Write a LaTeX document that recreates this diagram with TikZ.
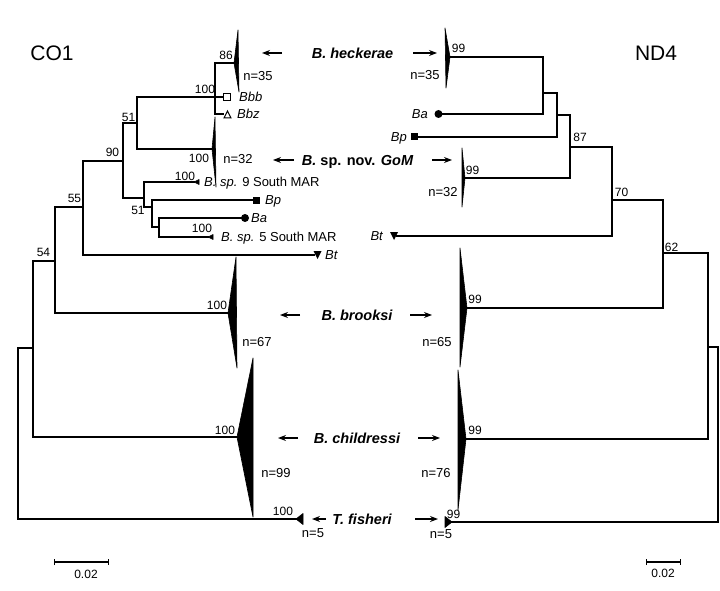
\documentclass[tikz,border=0pt]{standalone}
\usepackage{fontspec}
\setmainfont{Liberation Sans}
\usetikzlibrary{arrows.meta}
\begin{document}
\begin{tikzpicture}[x=1pt,y=-1pt,
  br/.style={line width=1.3pt, line cap=rect},
  clade/.style={fill=black,draw=black,line width=0.6pt,line join=round},
  bs/.style={font=\fontsize{12}{12}\selectfont, inner sep=0pt, text height=8.6pt, text depth=0pt},
  cnt/.style={font=\fontsize{13}{13}\selectfont, inner sep=0pt, text height=9.3pt, text depth=0pt},
  tax/.style={font=\fontsize{13}{13}\selectfont\itshape, inner sep=0pt, text height=9.3pt, text depth=0pt},
  grp/.style={font=\fontsize{14.5}{14.5}\selectfont\bfseries\itshape, inner sep=0pt, text height=10.4pt, text depth=0pt},
  ttl/.style={font=\fontsize{21}{21}\selectfont, inner sep=0pt, text height=15pt, text depth=0pt},
  arr/.style={line width=1.2pt,-{Stealth[length=8pt,width=6pt]}},
  sbar/.style={line width=1.1pt,{Bar[width=6pt]}-{Bar[width=6pt]}},
]
\useasboundingbox (0,0) rectangle (720,591);

% ---------------- titles
\node[ttl] (co1) at (52,53) {CO1};
\node[ttl] (nd4) at (656,53) {ND4};

% ---------------- left tree (CO1): internal nodes
\coordinate (Lr) at (18,348);
\coordinate (LA) at (33,348);
\coordinate (LB) at (55,261);
\coordinate (LC) at (83,207);
\coordinate (LD) at (123,161);
\coordinate (LE) at (137,123);
\coordinate (LF) at (144,198);
\coordinate (LG) at (215,97);
\coordinate (LI) at (152,207);
\coordinate (LJ) at (159,227);
% tips
\coordinate (LtHeck) at (234,63);
\coordinate (LtBbb) at (223.5,97);
\coordinate (LtBbz) at (223.5,114);
\coordinate (LtGoM) at (212,149);
\coordinate (LtSp9) at (194,182);
\coordinate (LtBp) at (253,200);
\coordinate (LtBa) at (241,218);
\coordinate (LtSp5) at (208,237);
\coordinate (LtBt) at (314,255);
\coordinate (LtBro) at (228,313);
\coordinate (LtChi) at (237,437);
\coordinate (LtFis) at (296,519);

\draw[br] (Lr) |- (LA);  \draw[br] (Lr) |- (LtFis);
\draw[br] (LA) |- (LB);  \draw[br] (LA) |- (LtChi);
\draw[br] (LB) |- (LC);  \draw[br] (LB) |- (LtBro);
\draw[br] (LC) |- (LD);  \draw[br] (LC) |- (LtBt);
\draw[br] (LD) |- (LE);  \draw[br] (LD) |- (LF);
\draw[br] (LE) |- (LG);  \draw[br] (LE) |- (LtGoM);
\draw[br] (LG) |- (LtHeck); \draw[br] (LG) |- (LtBbb); \draw[br] (LG) |- (LtBbz);
\draw[br] (LF) |- (LtSp9); \draw[br] (LF) |- (LI);
\draw[br] (LI) |- (LtBp);  \draw[br] (LI) |- (LJ);
\draw[br] (LJ) |- (LtBa);  \draw[br] (LJ) |- (LtSp5);

% collapsed clades (left)
\filldraw[clade] (LtHeck) -- (238,30) -- (239,92) -- cycle;
\filldraw[clade] (LtGoM) -- (215,117) -- (216,187) -- cycle;
\filldraw[clade] (LtBro) -- (236,257) -- (237,368) -- cycle;
\filldraw[clade] (LtChi) -- (253,358) -- (253,517) -- cycle;
\filldraw[clade] (LtFis) -- (303,513.5) -- (303,524.5) -- cycle;
\filldraw[clade] (LtSp9) -- (199,179.5) -- (199,184.5) -- cycle;
\filldraw[clade] (LtSp5) -- (213,234.5) -- (213,239.5) -- cycle;

% markers (left)
\draw[line width=1pt] (223.5,93.5) rectangle (230.5,100.5);
\draw[line width=1pt,line join=miter] (224,118) -- (231,118) -- (227.5,111) -- cycle;
\fill (252.5,196.5) rectangle (259.5,203.5);
\fill (245,218) circle (4);
\fill (313.5,251) -- (321.5,251) -- (317.5,259) -- cycle;

% tip labels (left)
\node[tax,anchor=west] (lBbb) at (239,97) {Bbb};
\node[tax,anchor=west] (lBbz) at (237,114) {Bbz};
\node[cnt,anchor=west] (lSp9) at (204,182) {\textit{B. sp.} 9 South MAR};
\node[tax,anchor=west] (lBp) at (265,200) {Bp};
\node[tax,anchor=west] (lBa) at (251,218) {Ba};
\node[cnt,anchor=west] (lSp5) at (221,237) {\textit{B. sp.} 5 South MAR};
\node[tax,anchor=west] (lBt) at (325,255) {Bt};

% support values (left)
\node[bs] (b86) at (226,55) {86};
\node[bs] (b100g) at (205,89) {100};
\node[bs] (b51a) at (128.5,117) {51};
\node[bs] (b90) at (112.5,152) {90};
\node[bs] (b100gom) at (199,158) {100};
\node[bs] (b100s9) at (185,176) {100};
\node[bs] (b51b) at (138,210) {51};
\node[bs] (b100s5) at (202,228) {100};
\node[bs] (b55) at (74.5,198) {55};
\node[bs] (b54) at (43.5,252) {54};
\node[bs] (b100bro) at (217,305) {100};
\node[bs] (b100chi) at (225,430) {100};
\node[bs] (b100fis) at (283,511) {100};

% counts (left)
\node[cnt] (ln35) at (258,76) {n=35};
\node[cnt] (ln32) at (238,159) {n=32};
\node[cnt] (ln67) at (257,342) {n=67};
\node[cnt] (ln99) at (276,473) {n=99};
\node[cnt] (ln5) at (313,533) {n=5};

% ---------------- right tree (ND4): internal nodes
\coordinate (Rr) at (718,347);
\coordinate (R6) at (708,347);
\coordinate (R5) at (663,253);
\coordinate (R4) at (612,200);
\coordinate (R3) at (570,147);
\coordinate (R2) at (557,115);
\coordinate (R1) at (543,93);
% tips
\coordinate (RtHeck) at (450,57);
\coordinate (RtBa) at (442,114);
\coordinate (RtBp) at (417,137);
\coordinate (RtGoM) at (465,178);
\coordinate (RtBt) at (397,236);
\coordinate (RtBro) at (467,308);
\coordinate (RtChi) at (466,439);
\coordinate (RtFis) at (452,522);

\draw[br] (Rr) |- (R6);  \draw[br] (Rr) |- (RtFis);
\draw[br] (R6) |- (R5);  \draw[br] (R6) |- (RtChi);
\draw[br] (R5) |- (R4);  \draw[br] (R5) |- (RtBro);
\draw[br] (R4) |- (R3);  \draw[br] (R4) |- (RtBt);
\draw[br] (R3) |- (R2);  \draw[br] (R3) |- (RtGoM);
\draw[br] (R2) |- (R1);  \draw[br] (R2) |- (RtBp);
\draw[br] (R1) |- (RtHeck); \draw[br] (R1) |- (RtBa);

% collapsed clades (right)
\filldraw[clade] (RtHeck) -- (445,28) -- (446,88) -- cycle;
\filldraw[clade] (RtGoM) -- (462,148) -- (462,207) -- cycle;
\filldraw[clade] (RtBro) -- (460,248) -- (460,367) -- cycle;
\filldraw[clade] (RtChi) -- (458,370) -- (458,510) -- cycle;
\filldraw[clade] (RtFis) -- (445,516.5) -- (445,527.5) -- cycle;

% markers (right)
\fill (438.5,114) circle (4);
\fill (410.5,133.5) rectangle (417.5,140.5);
\fill (390,232) -- (398,232) -- (394,240) -- cycle;

% tip labels (right)
\node[tax,anchor=east] (rBa) at (428,114) {Ba};
\node[tax,anchor=east] (rBp) at (407,137) {Bp};
\node[tax,anchor=east] (rBt) at (383,236) {Bt};

% support values (right)
\node[bs] (r99h) at (458.5,48) {99};
\node[bs] (r87) at (580,137.5) {87};
\node[bs] (r99g) at (472.5,170) {99};
\node[bs] (r70) at (621.5,192) {70};
\node[bs] (r62) at (671.5,247) {62};
\node[bs] (r99b) at (475,299) {99};
\node[bs] (r99c) at (475,430) {99};
\node[bs] (r99f) at (453.5,514) {99};

% counts (right)
\node[cnt] (rn35) at (425,75) {n=35};
\node[cnt] (rn32) at (443,192) {n=32};
\node[cnt] (rn65) at (437,342) {n=65};
\node[cnt] (rn76) at (436,473) {n=76};
\node[cnt] (rn5) at (441,534) {n=5};

% ---------------- group names with arrows
\node[grp] (gHeck) at (352.5,53) {B. heckerae};
\node[grp] (gGoM) at (357.5,160) {B. {\upshape sp. nov.} GoM};
\node[grp] (gBro) at (357,315) {B. brooksi};
\node[grp] (gChi) at (357,438) {B. childressi};
\node[grp] (gFis) at (362,519) {T. fisheri};

\coordinate (aHl1) at (282,53);  \coordinate (aHl2) at (262,53);
\coordinate (aHr1) at (413,53);  \coordinate (aHr2) at (437,53);
\coordinate (aGl1) at (294,160); \coordinate (aGl2) at (273,160);
\coordinate (aGr1) at (432,160); \coordinate (aGr2) at (452,160);
\coordinate (aBl1) at (300,315); \coordinate (aBl2) at (280,315);
\coordinate (aBr1) at (410,315); \coordinate (aBr2) at (432,315);
\coordinate (aCl1) at (298,438); \coordinate (aCl2) at (278,438);
\coordinate (aCr1) at (418,438); \coordinate (aCr2) at (440,438);
\coordinate (aFl1) at (326,519); \coordinate (aFl2) at (312,519);
\coordinate (aFr1) at (415,519); \coordinate (aFr2) at (438,519);
\draw[arr] (aHl1) -- (aHl2); \draw[arr] (aHr1) -- (aHr2);
\draw[arr] (aGl1) -- (aGl2); \draw[arr] (aGr1) -- (aGr2);
\draw[arr] (aBl1) -- (aBl2); \draw[arr] (aBr1) -- (aBr2);
\draw[arr] (aCl1) -- (aCl2); \draw[arr] (aCr1) -- (aCr2);
\draw[arr] (aFl1) -- (aFl2); \draw[arr] (aFr1) -- (aFr2);

% ---------------- scale bars
\coordinate (sL1) at (54,562); \coordinate (sL2) at (109,562);
\coordinate (sR1) at (646,562); \coordinate (sR2) at (681,562);
\draw[sbar] (sL1) -- (sL2);
\draw[sbar] (sR1) -- (sR2);
\node[bs] (sLl) at (86,574) {0.02};
\node[bs] (sRl) at (663,573) {0.02};
\end{tikzpicture}
\end{document}
